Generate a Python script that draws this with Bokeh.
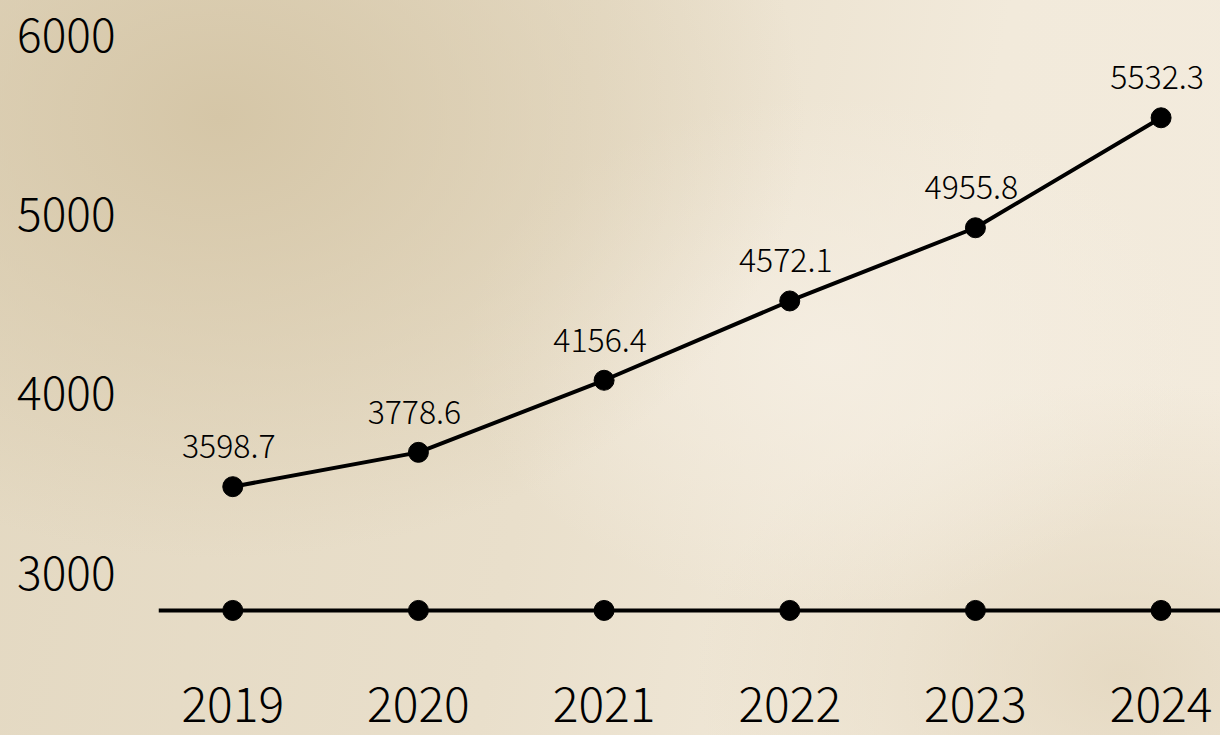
from bokeh.plotting import figure
from bokeh.models import Range1d, FixedTicker, Span, ColumnDataSource
from bokeh.core.properties import value
from bokeh.embed import file_html
from bokeh.resources import INLINE

# ---- data ----
years = [2019, 2020, 2021, 2022, 2023, 2024]
values = [3598.7, 3778.6, 4156.4, 4572.1, 4955.8, 5532.3]
labels = ["3598.7", "3778.6", "4156.4", "4572.1", "4955.8", "5532.3"]
y_ticks = [3000, 4000, 5000, 6000]
baseline_value = 2950
baseline = [baseline_value] * len(years)

FONT = "Noto Sans CJK SC Light"
INK = "#000000"

p = figure(width=1220, height=735, output_backend="svg", toolbar_location=None,
           x_range=Range1d(2018.60, 2024.32), y_range=Range1d(2565, 6190),
           min_border_left=158, min_border_right=0, min_border_top=0, min_border_bottom=85)
p.extra_y_ranges = {"data": Range1d(2740, 6147)}

p.background_fill_color = None
p.border_fill_color = None
p.outline_line_color = None
p.grid.visible = False
p.styles = {
    "position": "absolute", "top": "0px", "left": "0px",
    "background": ("radial-gradient(ellipse 48% 60% at 18% 16%, rgba(213,198,167,1) 0%, rgba(213,198,167,0) 100%), "
                   "radial-gradient(ellipse 30% 35% at 68% 48%, rgba(245,238,226,0.9) 0%, rgba(245,238,226,0) 100%), "
                   "radial-gradient(ellipse 35% 40% at 92% 92%, rgba(226,213,188,0.8) 0%, rgba(226,213,188,0) 100%), "
                   "linear-gradient(100deg, #e3d8c1 0%, #e9dfcb 45%, #f2eadb 75%, #f3ebdd 100%)"),
}

src = ColumnDataSource(dict(x=years, y=values, label=labels, base=baseline))

# baseline with markers
p.add_layout(Span(location=baseline_value, dimension="width", y_range_name="data",
                  line_color=INK, line_width=4))
p.scatter("x", "base", source=src, y_range_name="data", size=20, color=INK)

# data series
p.line("x", "y", source=src, y_range_name="data", line_color=INK, line_width=4)
p.scatter("x", "y", source=src, y_range_name="data", size=20, color=INK)
p.text("x", "y", text="label", source=src, y_range_name="data",
       text_font=value(FONT), text_font_size="32px", text_color=INK,
       text_align="center", text_baseline="alphabetic", x_offset=-4, y_offset=-40)

# axes
for ax in (p.xaxis[0], p.yaxis[0]):
    ax.axis_line_color = None
    ax.major_tick_line_color = None
    ax.minor_tick_line_color = None
    ax.major_label_text_font = FONT
    ax.major_label_text_color = INK

p.xaxis[0].major_label_text_font_size = "48px"
p.yaxis[0].major_label_text_font_size = "46px"
p.xaxis[0].ticker = FixedTicker(ticks=years)
p.xaxis[0].major_label_standoff = 30
p.yaxis[0].ticker = FixedTicker(ticks=y_ticks)
p.yaxis[0].major_label_standoff = 37

open("out.html", "w").write(file_html(p, INLINE))
